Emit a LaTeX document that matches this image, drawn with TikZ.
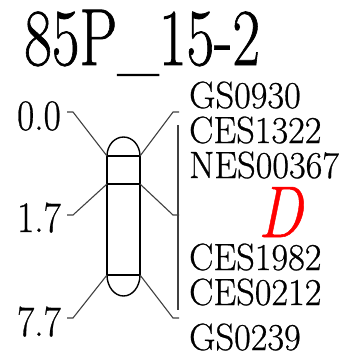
\documentclass[tikz,border=0pt]{standalone}
\usepackage{fontspec}
\usepackage{graphicx}
\newfontfamily\labfont{Latin Modern Roman}[FakeBold=0.7]
\newfontfamily\titfont{Latin Modern Roman}[FakeBold=1.0]
\newcommand{\mklab}[1]{\scalebox{1.1}[1.15]{\labfont\fontsize{33}{33}\selectfont #1}}
\newcommand{\mkpos}[1]{\scalebox{1.1}[1.28]{\labfont\fontsize{34}{34}\selectfont #1}}
\begin{document}
\begin{tikzpicture}[x=1pt,y=-1pt,
  conn/.style={draw=black!75,line width=1.1pt},
  chrom/.style={draw=black,line width=1.4pt},
  lab/.style={anchor=base west,inner sep=0pt},
  poslab/.style={anchor=base east,inner sep=0pt}]
\useasboundingbox (0,0) rectangle (347,354);
% title
\node[lab] (title) at (24,65) {\scalebox{1.02}[1.37]{\titfont\fontsize{59}{59}\selectfont 85P\_15-2}};
% chromosome
\coordinate (tl) at (107,156);
\coordinate (tr) at (140,156);
\coordinate (ml) at (107,184);
\coordinate (mr) at (140,184);
\coordinate (bl) at (107,275);
\coordinate (br) at (140,275);
\draw[chrom] (tl) arc[start angle=180,end angle=360,x radius=16.5,y radius=19];
\draw[chrom] (bl) arc[start angle=180,end angle=0,x radius=16.5,y radius=21];
\draw[chrom] (tl) rectangle (br);
\draw[chrom] (ml) -- (mr);
% position labels
\node[poslab] (p0) at (61,130) {\mkpos{0.0}};
\node[poslab] (p1) at (61,232) {\mkpos{1.7}};
\node[poslab] (p7) at (61,336) {\mkpos{7.7}};
\coordinate (lt0) at (67,112);
\coordinate (lt1) at (67,215);
\coordinate (lt7) at (67,318);
\draw[conn] (lt0) -- ++(6,0) -- (tl);
\draw[conn] (lt1) -- ++(6,0) -- (ml);
\draw[conn] (lt7) -- ++(6,0) -- (bl);
% right connectors
\coordinate (rt0) at (179,112);
\coordinate (rt1) at (179,215);
\coordinate (rt7) at (179,318);
\coordinate (bart) at (178,125);
\coordinate (barb) at (178,310);
\draw[conn] (tr) -- (173,112) -- (rt0);
\draw[conn] (mr) -- (173,215) -- (rt1);
\draw[conn] (br) -- (173,318) -- (rt7);
\draw[conn] (bart) -- (barb);
% marker labels
\node[lab] (m1) at (189,108) {\mklab{GS0930}};
\node[lab] (m2) at (189,143) {\mklab{CES1322}};
\node[lab] (m3) at (189,178) {\mklab{NES00367}};
\node[lab,text=red] (m4) at (258,237) {\scalebox{1}[1.22]{\labfont\itshape\fontsize{60}{60}\selectfont D}};
\node[lab] (m5) at (189,270) {\mklab{CES1982}};
\node[lab] (m6) at (189,305) {\mklab{CES0212}};
\node[lab] (m7) at (189,350) {\mklab{GS0239}};
\end{tikzpicture}
\end{document}
